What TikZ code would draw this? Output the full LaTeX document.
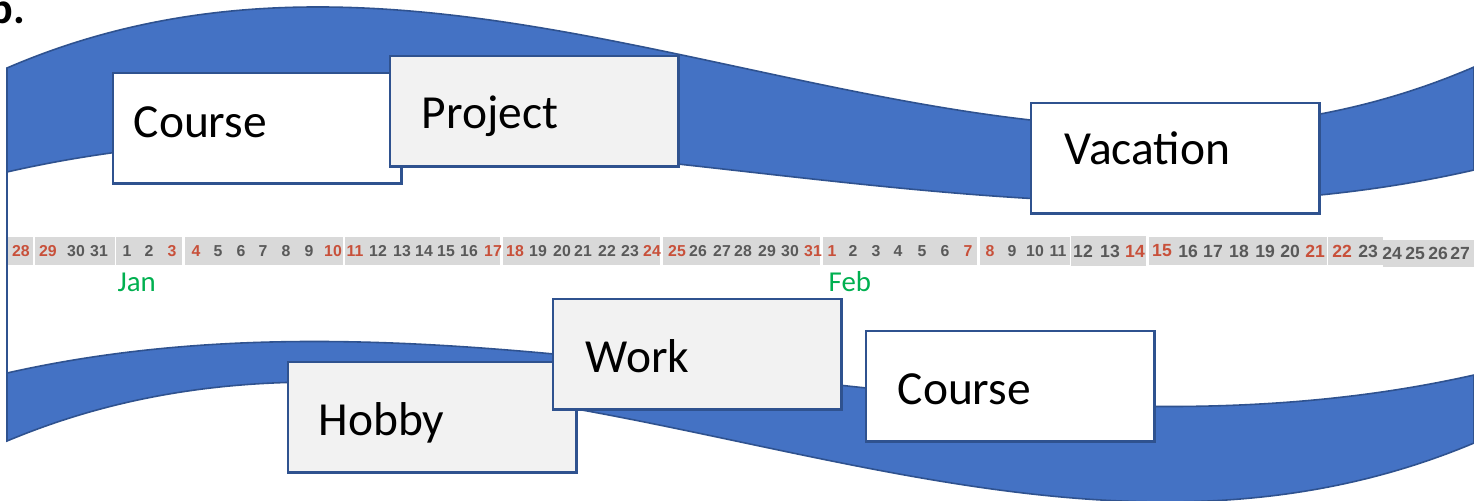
\documentclass[tikz,border=0pt]{standalone}
\usepackage{fontspec}
\setmainfont{Carlito}
\newfontfamily\numfont{Liberation Sans}
\definecolor{wavefill}{HTML}{4472C4}
\definecolor{waveline}{HTML}{2F528F}
\definecolor{boxgray}{HTML}{F2F2F2}
\definecolor{stripgray}{HTML}{D9D9D9}
\definecolor{dred}{HTML}{C8503A}
\definecolor{dgray}{HTML}{595959}
\definecolor{jgreen}{HTML}{00B050}
\begin{document}
\begin{tikzpicture}[x=0.01cm,y=-0.01cm,
  wave/.style={fill=wavefill, draw=waveline, line width=0.45pt},
  box/.style={draw=waveline, line width=0.7pt, minimum width=2.88cm, minimum height=1.10cm, anchor=north west, inner sep=0pt},
  lbl/.style={anchor=base west, inner sep=0pt, text=black, font=\fontsize{13.5}{16}\selectfont},
  seg/.style={fill=stripgray},
  day/.style={inner sep=0pt, font=\numfont\bfseries\fontsize{4.5}{5}\selectfont},
  bigday/.style={inner sep=0pt, font=\numfont\bfseries\fontsize{5.0}{6}\selectfont},
  mon/.style={anchor=base west, inner sep=0pt, text=jgreen, font=\fontsize{8.2}{10}\selectfont}]
\useasboundingbox (0,0) rectangle (1474,500);
\clip (0,0) rectangle (1474,500);
\fill[white] (0,0) rectangle (1474,500);

% partial label at top-left corner (cut by the edge, as in the source)
\node[anchor=base east, inner sep=0pt, font=\bfseries\fontsize{12.5}{14}\selectfont] (tag) at (26,23) {b.};

% top wave band
\path[wave] (7,68) .. controls (496,-143) and (985,278) .. (1474,67)
  -- (1474,170) .. controls (985,282) and (496,60) .. (7,172) -- cycle;

% left vertical line
\draw[draw=waveline, line width=0.6pt] (7,171) -- (7,374);

% top boxes
\node[box, fill=white] (course1) at (112,72) {};
\node[lbl] (course1t) at (133,137) {Course};
\node[box, fill=boxgray] (project) at (389,55) {};
\node[lbl] (projectt) at (421,128) {Project};
\node[box, fill=white] (vacation) at (1030,102) {};
\node[lbl] (vacationt) at (1064,164) {Vacation};

% date strip
\foreach \a/\b in {8/33, 35/115, 116/182, 185/343, 345/500, 503/660, 663/820, 823/977, 980/1070, 1149/1327, 1328/1383}
  \fill[seg] (\a,237) rectangle (\b,265);
\fill[seg] (1071,236) rectangle (1146,266);
\fill[seg] (1383,240) rectangle (1474,267);

\foreach \x/\t/\c [count=\i] in {
  21/28/dred, 48/29/dred, 76/30/dgray, 99/31/dgray,
  127/1/dgray, 149/2/dgray, 172/3/dred, 196/4/dred, 218/5/dgray, 241/6/dgray, 263/7/dgray,
  286/8/dgray, 309/9/dgray, 333/10/dred, 355/11/dred, 378/12/dgray, 402/13/dgray, 424/14/dgray,
  446/15/dgray, 469/16/dgray, 493/17/dred, 515/18/dred, 538/19/dgray, 562/20/dgray, 583/21/dgray,
  607/22/dgray, 630/23/dgray, 652/24/dred, 677/25/dred, 698/26/dgray, 722/27/dgray, 743/28/dgray,
  767/29/dgray, 790/30/dgray, 813/31/dred,
  832/1/dred, 853/2/dgray, 876/3/dgray, 898/4/dgray, 922/5/dgray, 945/6/dgray, 968/7/dred,
  990/8/dred, 1012/9/dgray, 1035/10/dgray, 1058/11/dgray}
  \node[day, text=\c] (d\i) at (\x,251) {\t};

\foreach \x/\t/\c [count=\i] in {
  1083/12/dgray, 1110/13/dgray, 1135/14/dred,
  1162/15/dred, 1188/16/dgray, 1213/17/dgray, 1239/18/dgray, 1265/19/dgray, 1290/20/dgray, 1315/21/dred,
  1342/22/dred, 1368/23/dgray}
  \node[bigday, text=\c] (e\i) at (\x,251) {\t};

\foreach \x/\t [count=\i] in {1392/24, 1415/25, 1438/26, 1460/27}
  \node[bigday, text=dgray] (f\i) at (\x,253) {\t};

\node[mon] (jan) at (117,291) {Jan};
\node[mon] (feb) at (828,291) {Feb};

% bottom wave band
\path[wave] (7,373) .. controls (496,263) and (985,485) .. (1474,375)
  -- (1474,443) .. controls (985,648) and (496,236) .. (7,441) -- cycle;

% bottom boxes
\node[box, fill=boxgray] (hobby) at (287,361) {};
\node[lbl] (hobbyt) at (318,435) {Hobby};
\node[box, fill=boxgray] (work) at (552,298) {};
\node[lbl] (workt) at (585,372) {Work};
\node[box, fill=white] (course2) at (865,330) {};
\node[lbl] (course2t) at (897,404) {Course};
\end{tikzpicture}
\end{document}
